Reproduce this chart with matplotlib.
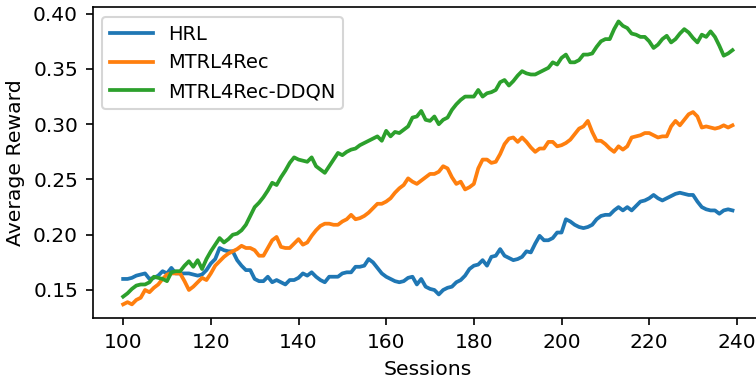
import numpy as np
import matplotlib
matplotlib.use('Agg')
import matplotlib.pyplot as plt

# sessions 100..239
sessions = np.arange(100, 240)

hrl = [0.160, 0.160, 0.161, 0.163, 0.164, 0.165, 0.160, 0.161, 0.163, 0.167,
       0.165, 0.170, 0.165, 0.165, 0.165, 0.165, 0.164, 0.163, 0.164, 0.168,
       0.174, 0.178, 0.188, 0.186, 0.185, 0.185, 0.177, 0.172, 0.168, 0.168,
       0.160, 0.158, 0.158, 0.162, 0.157, 0.159, 0.157, 0.155, 0.159, 0.159,
       0.161, 0.165, 0.163, 0.166, 0.162, 0.159, 0.157, 0.162, 0.162, 0.162,
       0.165, 0.166, 0.166, 0.171, 0.171, 0.172, 0.178, 0.175, 0.170, 0.165,
       0.162, 0.160, 0.158, 0.157, 0.158, 0.161, 0.162, 0.155, 0.160, 0.153,
       0.151, 0.150, 0.146, 0.150, 0.152, 0.153, 0.157, 0.159, 0.163, 0.169,
       0.172, 0.173, 0.177, 0.172, 0.180, 0.181, 0.187, 0.181, 0.179, 0.177,
       0.178, 0.180, 0.185, 0.184, 0.192, 0.199, 0.195, 0.195, 0.197, 0.202,
       0.202, 0.214, 0.212, 0.209, 0.207, 0.206, 0.207, 0.209, 0.214, 0.217,
       0.218, 0.218, 0.222, 0.225, 0.222, 0.225, 0.222, 0.226, 0.230, 0.231,
       0.233, 0.236, 0.233, 0.231, 0.233, 0.235, 0.237, 0.238, 0.237, 0.236,
       0.236, 0.230, 0.225, 0.223, 0.222, 0.222, 0.219, 0.222, 0.223, 0.222]

mtrl4rec = [0.137, 0.139, 0.137, 0.141, 0.143, 0.150, 0.148, 0.152, 0.155, 0.160,
            0.164, 0.165, 0.165, 0.165, 0.158, 0.150, 0.153, 0.157, 0.161, 0.159,
            0.165, 0.172, 0.176, 0.180, 0.183, 0.185, 0.187, 0.190, 0.188, 0.188,
            0.186, 0.181, 0.181, 0.188, 0.195, 0.198, 0.189, 0.188, 0.188, 0.192,
            0.196, 0.191, 0.193, 0.199, 0.204, 0.208, 0.210, 0.210, 0.209, 0.209,
            0.212, 0.214, 0.218, 0.214, 0.215, 0.217, 0.220, 0.224, 0.228, 0.228,
            0.230, 0.233, 0.238, 0.242, 0.245, 0.251, 0.248, 0.246, 0.249, 0.252,
            0.255, 0.255, 0.257, 0.262, 0.260, 0.252, 0.246, 0.248, 0.241, 0.243,
            0.246, 0.260, 0.268, 0.268, 0.265, 0.266, 0.273, 0.282, 0.287, 0.288,
            0.284, 0.288, 0.284, 0.279, 0.275, 0.278, 0.278, 0.284, 0.284, 0.280,
            0.281, 0.283, 0.286, 0.291, 0.296, 0.298, 0.303, 0.293, 0.285, 0.285,
            0.282, 0.278, 0.275, 0.280, 0.277, 0.280, 0.288, 0.289, 0.290, 0.292,
            0.292, 0.290, 0.288, 0.289, 0.289, 0.298, 0.303, 0.299, 0.304, 0.309,
            0.311, 0.307, 0.297, 0.298, 0.297, 0.296, 0.297, 0.299, 0.297, 0.299]

mtrl4rec_ddqn = [0.144, 0.147, 0.151, 0.154, 0.155, 0.155, 0.157, 0.162, 0.161, 0.160,
                 0.158, 0.166, 0.167, 0.167, 0.172, 0.176, 0.171, 0.177, 0.169, 0.178,
                 0.185, 0.191, 0.197, 0.193, 0.196, 0.200, 0.201, 0.204, 0.209, 0.217,
                 0.225, 0.229, 0.234, 0.240, 0.247, 0.245, 0.252, 0.258, 0.265, 0.270,
                 0.268, 0.267, 0.266, 0.270, 0.262, 0.259, 0.256, 0.262, 0.268, 0.274,
                 0.272, 0.275, 0.277, 0.278, 0.281, 0.283, 0.285, 0.287, 0.289, 0.285,
                 0.294, 0.289, 0.293, 0.292, 0.295, 0.298, 0.306, 0.307, 0.312, 0.304,
                 0.303, 0.307, 0.300, 0.304, 0.306, 0.313, 0.318, 0.322, 0.325, 0.325,
                 0.325, 0.331, 0.325, 0.328, 0.329, 0.331, 0.338, 0.340, 0.335, 0.339,
                 0.344, 0.348, 0.346, 0.345, 0.345, 0.347, 0.349, 0.351, 0.356, 0.354,
                 0.360, 0.363, 0.356, 0.356, 0.358, 0.363, 0.363, 0.364, 0.370, 0.375,
                 0.377, 0.377, 0.386, 0.393, 0.389, 0.387, 0.382, 0.381, 0.379, 0.379,
                 0.375, 0.369, 0.372, 0.377, 0.380, 0.374, 0.377, 0.382, 0.386, 0.383,
                 0.378, 0.374, 0.381, 0.379, 0.384, 0.379, 0.371, 0.362, 0.364, 0.367]

fig = plt.figure(figsize=(5.04, 2.54), dpi=150)
# axes runs slightly past the right edge, like the cropped original
ax = fig.add_axes([0.1226, 0.1646, 0.8866, 0.8163])

ax.plot(sessions, hrl, lw=1.8, label='HRL')
ax.plot(sessions, mtrl4rec, lw=1.8, label='MTRL4Rec')
ax.plot(sessions, mtrl4rec_ddqn, lw=1.8, label='MTRL4Rec-DDQN')

ax.set_xlim(93.05, 245.95)
ax.set_ylim(0.1244, 0.4058)
ax.set_xticks(np.arange(100, 241, 20))
ax.set_yticks([0.15, 0.20, 0.25, 0.30, 0.35, 0.40])
ax.tick_params(labelsize=9.7)
ax.set_xlabel('Sessions', fontsize=9.8)
ax.set_ylabel('Average Reward', fontsize=9.8)
ax.legend(loc='upper left', fontsize=9.3, handlelength=2.2)

fig.savefig('out.png', dpi=150)
